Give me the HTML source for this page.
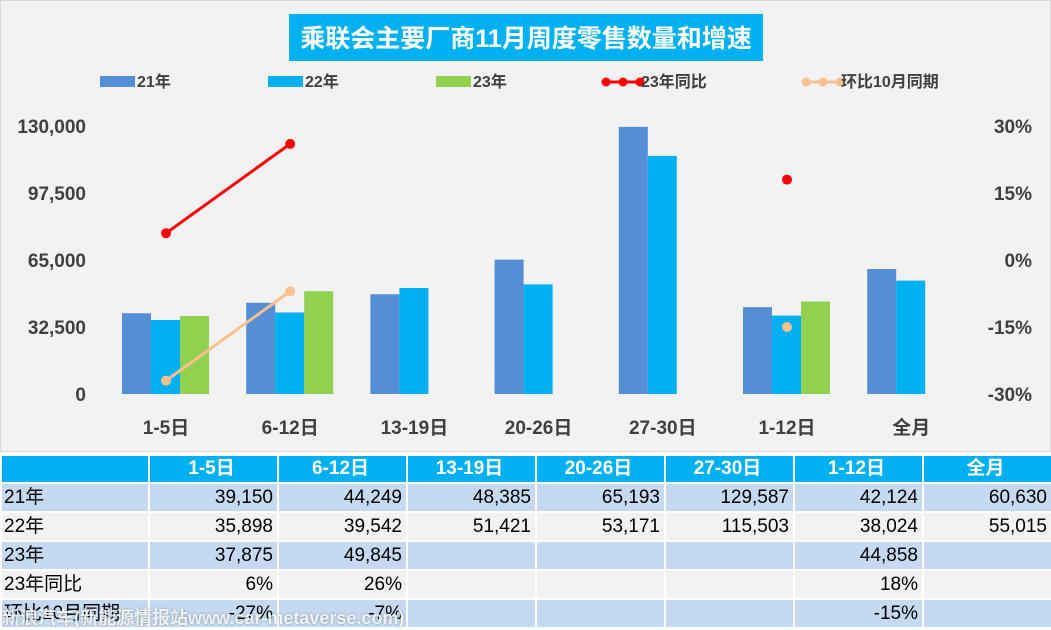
<!DOCTYPE html>
<html><head><meta charset="utf-8"><style>
*{margin:0;padding:0;box-sizing:border-box}
body{width:1051px;height:628px;overflow:hidden;background:#fff;font-family:"Liberation Sans","Noto Sans CJK SC",sans-serif;position:relative}
#chart{position:absolute;left:0;top:0;width:1051px;height:452px;background:#f2f2f2;border:1px solid #d9d9d9}
table{position:absolute;left:0;top:454px;border-collapse:collapse;table-layout:fixed;width:1051px}
td{height:29px;border:2px solid #fff;font-size:19px;line-height:24px;color:#000;text-align:right;padding-right:4px;white-space:nowrap;overflow:hidden;vertical-align:middle}
tr.h td{background:#00b0f0;color:#fff;font-weight:bold;text-align:center;height:28px}
tr.b td{background:#c5d9f1}
tr.g td{background:#f2f2f2}
td.l{text-align:left;padding-left:2px}
#wm{position:absolute;left:2px;top:604px;font-size:18px;font-weight:bold;color:rgba(255,255,255,0.85);text-shadow:0 0 2px rgba(0,0,0,0.35);white-space:nowrap}
</style></head><body>
<svg id="chart" width="1051" height="452" xmlns="http://www.w3.org/2000/svg">
<rect x="288" y="13" width="474" height="47" fill="#00b0f0"/>
<text x="525" y="46" text-anchor="middle" font-size="25" font-weight="bold" fill="#fff">乘联会主要厂商11月周度零售数量和增速</text>
<g font-size="16" font-weight="bold" fill="#404040">
<rect x="99" y="75" width="35" height="11" fill="#558ed5"/><text x="136" y="86">21年</text>
<rect x="267" y="75" width="35" height="11" fill="#00b0f0"/><text x="304" y="86">22年</text>
<rect x="435" y="75" width="35" height="11" fill="#92d050"/><text x="472" y="86">23年</text>
<line x1="603" y1="81" x2="641" y2="81" stroke="#ff0000" stroke-width="3"/><circle cx="605" cy="81" r="4.5" fill="#ff0000"/><circle cx="622" cy="81" r="4.5" fill="#ff0000"/><circle cx="639" cy="81" r="4.5" fill="#ff0000"/><text x="640" y="86">23年同比</text>
<line x1="803" y1="81" x2="841" y2="81" stroke="#fac090" stroke-width="3"/><circle cx="805" cy="81" r="4.5" fill="#fac090"/><circle cx="822" cy="81" r="4.5" fill="#fac090"/><circle cx="839" cy="81" r="4.5" fill="#fac090"/><text x="840" y="86">环比10月同期</text>
</g>
<g id="axes"></g><g id="bars"></g><g id="lines"></g>
</svg>
<table>
<colgroup><col style="width:148px"><col style="width:129px"><col style="width:129px"><col style="width:129px"><col style="width:129px"><col style="width:129px"><col style="width:129px"><col style="width:129px"></colgroup>
<tr class="h"><td></td><td>1-5日</td><td>6-12日</td><td>13-19日</td><td>20-26日</td><td>27-30日</td><td>1-12日</td><td>全月</td></tr>
<tr class="b"><td class="l">21年</td><td>39,150</td><td>44,249</td><td>48,385</td><td>65,193</td><td>129,587</td><td>42,124</td><td>60,630</td></tr>
<tr class="g"><td class="l">22年</td><td>35,898</td><td>39,542</td><td>51,421</td><td>53,171</td><td>115,503</td><td>38,024</td><td>55,015</td></tr>
<tr class="b"><td class="l">23年</td><td>37,875</td><td>49,845</td><td></td><td></td><td></td><td>44,858</td><td></td></tr>
<tr class="g"><td class="l">23年同比</td><td>6%</td><td>26%</td><td></td><td></td><td></td><td>18%</td><td></td></tr>
<tr class="b"><td class="l">环比10月同期</td><td>-27%</td><td>-7%</td><td></td><td></td><td></td><td>-15%</td><td></td></tr>
</table>
<div id="wm">新浪汽车(新能源情报站www.car-metaverse.com)</div>
<script>
const categories=["1-5日","6-12日","13-19日","20-26日","27-30日","1-12日","全月"];
const s21=[39150,44249,48385,65193,129587,42124,60630];
const s22=[35898,39542,51421,53171,115503,38024,55015];
const s23=[37875,49845,null,null,null,44858,null];
const yoy=[6,26,null,null,null,18,null];
const mom=[-27,-7,null,null,null,-15,null];
const leftTicks=[0,32500,65000,97500,130000];
const rightTicks=[-30,-15,0,15,30];
const NS="http://www.w3.org/2000/svg";
const yTop=125,yBot=393;
const yL=v=>yBot-v/130000*(yBot-yTop);
const yR=v=>yBot-(v+30)/60*(yBot-yTop);
const xC=i=>165+i*124.2;
function mk(tag,attrs,parent){const e=document.createElementNS(NS,tag);for(const k in attrs)e.setAttribute(k,attrs[k]);document.getElementById(parent).appendChild(e);return e;}
leftTicks.forEach(t=>{const e=mk("text",{x:85,y:yL(t)+7,"text-anchor":"end","font-size":19,"font-weight":"bold",fill:"#404040"},"axes");e.textContent=t.toLocaleString("en-US");

});
rightTicks.forEach(t=>{const e=mk("text",{x:1031,y:yR(t)+7,"text-anchor":"end","font-size":19,"font-weight":"bold",fill:"#404040"},"axes");e.textContent=t+"%";

});
categories.forEach((c,i)=>{const e=mk("text",{x:xC(i),y:433,"text-anchor":"middle","font-size":19,"font-weight":"bold",fill:"#404040"},"axes");e.textContent=c;

});
const series=[[s21,"#558ed5",-44],[s22,"#00b0f0",-15],[s23,"#92d050",14]];
series.forEach(([arr,col,off])=>arr.forEach((v,i)=>{if(v==null)return;const r=mk("rect",{x:xC(i)+off,y:yL(v),width:29,height:yBot-yL(v),fill:col},"bars");

}));
function line(arr,col,name){let prev=null;arr.forEach((v,i)=>{if(v==null){prev=null;return;}const p=[xC(i),yR(v)];if(prev){const l=mk("line",{x1:prev[0],y1:prev[1],x2:p[0],y2:p[1],stroke:col,"stroke-width":3},"lines");

}prev=p;});
arr.forEach((v,i)=>{if(v==null)return;const c=mk("circle",{cx:xC(i),cy:yR(v),r:5,fill:col},"lines");

});}
line(mom,"#fac090","mom");
line(yoy,"#ff0000","yoy");
</script>
</body></html>
